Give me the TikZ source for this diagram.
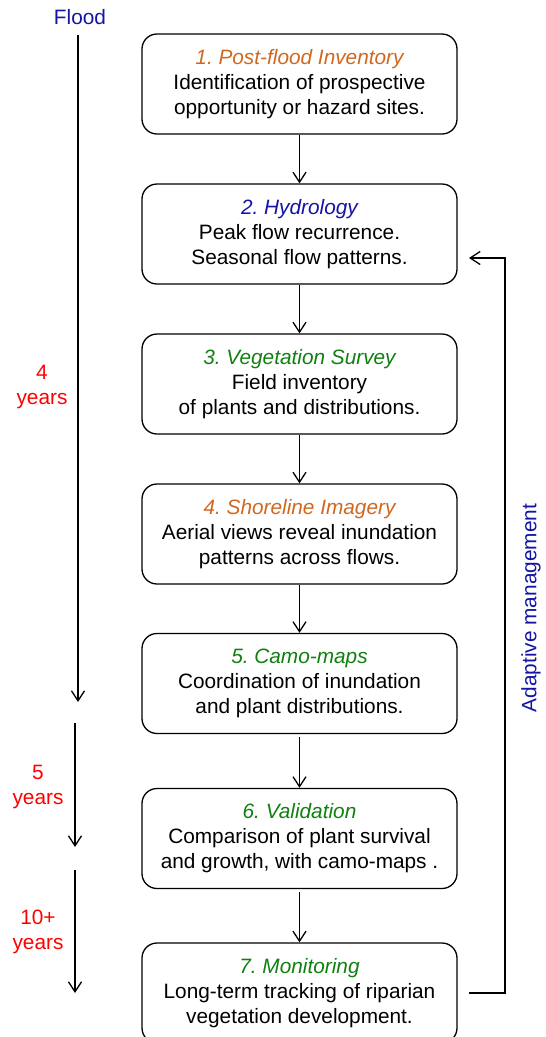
\documentclass[tikz,border=0pt]{standalone}
\usepackage{fontspec}
\setmainfont{Liberation Sans}
\usetikzlibrary{arrows.meta}
\frenchspacing
\definecolor{corange}{RGB}{208,104,32}
\definecolor{cgreen}{RGB}{16,128,16}
\definecolor{cblue}{RGB}{20,20,165}
\definecolor{cred}{RGB}{255,0,0}
\tikzset{
  stepbox/.style={draw=black, line width=1.3pt, rounded corners=15pt,
    minimum width=315pt, minimum height=100pt, align=center, inner sep=0pt,
    font={\fontsize{20.8}{25}\selectfont\frenchspacing}},
  lbl/.style={align=center, inner sep=0pt, font={\fontsize{20.8}{25}\selectfont}},
  conn/.style={line width=1.3pt, -{Straight Barb[length=10pt,width=13pt,line width=1.3pt]}},
  plainline/.style={line width=1.3pt}
}
\begin{document}
\begin{tikzpicture}[x=1pt,y=-1pt]
\useasboundingbox (0,0) rectangle (546,1037);
\clip (0,0) rectangle (546,1037);
\fill[white] (0,0) rectangle (546,1037);

\node[stepbox] (b1) at (299.5,84) {{\color{corange}\itshape 1. Post-flood Inventory}\\Identification of prospective\\opportunity or hazard sites.};
\node[stepbox] (b2) at (299.5,234) {{\color{cblue}\itshape 2. Hydrology}\\Peak flow recurrence.\\Seasonal flow patterns.};
\node[stepbox] (b3) at (299.5,384) {{\color{cgreen}\itshape 3. Vegetation Survey}\\Field inventory\\of plants and distributions.};
\node[stepbox] (b4) at (299.5,534) {{\color{corange}\itshape 4. Shoreline Imagery}\\Aerial views reveal inundation\\patterns across flows.};
\node[stepbox] (b5) at (299.5,683.5) {{\color{cgreen}\itshape 5. Camo-maps}\\Coordination of inundation\\and plant distributions.};
\node[stepbox] (b6) at (299.5,838.5) {{\color{cgreen}\itshape 6. Validation}\\Comparison of plant survival\\and growth, with camo-maps .};
\node[stepbox] (b7) at (299.5,993) {{\color{cgreen}\itshape 7. Monitoring}\\Long-term tracking of riparian\\vegetation development.};

\draw[conn] (b1.south) -- (b2.north);
\draw[conn] (b2.south) -- (b3.north);
\draw[conn] (b3.south) -- (b4.north);
\draw[conn] (b4.south) -- (b5.north);
\draw[conn,shorten <=3pt] (b5.south) -- (b6.north);
\draw[conn,shorten <=3pt] (b6.south) -- (b7.north);

% feedback loop
\coordinate (fbA) at (469,993);
\coordinate (fbB) at (505,993);
\coordinate (fbC) at (505,258);
\coordinate (fbD) at (469,258);
\draw[conn] (fbA) -- (fbB) -- (fbC) -- (fbD);
\node[lbl, text=cblue, rotate=90] (adapt) at (531,608) {Adaptive management};

% timeline
\node[lbl, text=cblue, anchor=base] (flood) at (80,24) {Flood};
\coordinate (t1s) at (78,35);
\coordinate (t1e) at (78,702);
\coordinate (t2s) at (75,723);
\coordinate (t2e) at (75,847);
\coordinate (t3s) at (75,870);
\coordinate (t3e) at (75,993);
\draw[conn] (t1s) -- (t1e);
\draw[conn] (t2s) -- (t2e);
\draw[conn] (t3s) -- (t3e);

\node[lbl, text=cred] (y4) at (42,387) {4\\years};
\node[lbl, text=cred] (y5) at (38,787) {5\\years};
\node[lbl, text=cred] (y10) at (38,932) {10+\\years};
\end{tikzpicture}
\end{document}
